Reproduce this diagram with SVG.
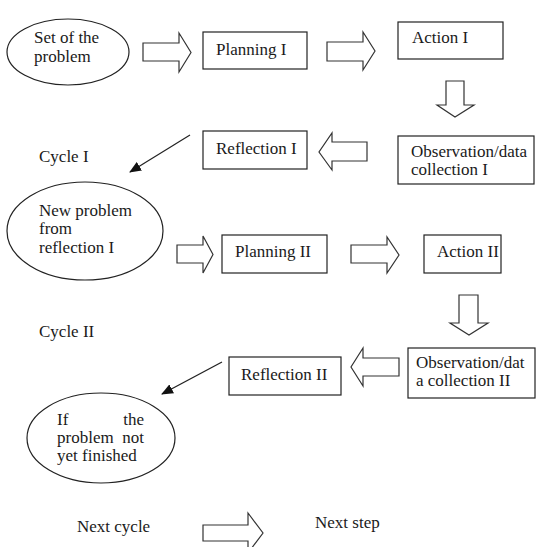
<svg xmlns="http://www.w3.org/2000/svg" width="537" height="547" viewBox="0 0 537 547">
<style>
.box{fill:#fff;stroke:#222;stroke-width:1.2}
.blk{fill:#fff;stroke:#333;stroke-width:1.2;stroke-linejoin:miter}
.ln{stroke:#222;stroke-width:1.2;fill:none}
text{font-family:"Liberation Serif","Times New Roman",serif;font-size:17px;fill:#1a1a1a}
.end{text-anchor:end}
</style>
<defs>
<marker id="ah" markerUnits="userSpaceOnUse" markerWidth="12" markerHeight="10" refX="11" refY="5" orient="auto">
<path d="M0,0 L12,5 L0,10 Z" fill="#111"/>
</marker>
</defs>
<rect width="537" height="547" fill="#fff"/>

<g id="n-set-problem">
<ellipse class="box" cx="68" cy="52" rx="61" ry="33"/>
<text x="34" y="43">Set of the</text>
<text x="34" y="62">problem</text>
</g>
<g id="n-planning1">
<rect class="box" x="203" y="32" width="104" height="37"/>
<text x="216" y="55">Planning I</text>
</g>
<g id="n-action1">
<rect class="box" x="398" y="22" width="105" height="37"/>
<text x="412" y="43">Action I</text>
</g>
<g id="n-observation1">
<rect class="box" x="398" y="136" width="136" height="48"/>
<text x="411" y="157">Observation/data</text>
<text x="411" y="175">collection I</text>
</g>
<g id="n-reflection1">
<rect class="box" x="203" y="131" width="104" height="38"/>
<text x="216" y="154">Reflection I</text>
</g>
<g id="n-cycle1">
<text x="39" y="162">Cycle I</text>
</g>
<g id="n-new-problem">
<ellipse class="box" cx="85" cy="231" rx="78" ry="49"/>
<text x="39" y="216">New problem</text>
<text x="39" y="234">from</text>
<text x="39" y="253">reflection I</text>
</g>
<g id="n-planning2">
<rect class="box" x="222" y="235" width="105" height="38"/>
<text x="235" y="257">Planning II</text>
</g>
<g id="n-action2">
<rect class="box" x="424" y="235" width="77" height="38"/>
<text x="437" y="257">Action II</text>
</g>
<g id="n-cycle2">
<text x="39" y="337">Cycle II</text>
</g>
<g id="n-observation2">
<rect class="box" x="408" y="348" width="127" height="50"/>
<text x="416" y="368">Observation/dat</text>
<text x="416" y="386">a collection II</text>
</g>
<g id="n-reflection2">
<rect class="box" x="229" y="357" width="112" height="38"/>
<text x="241" y="380">Reflection II</text>
</g>
<g id="n-not-finished">
<ellipse class="box" cx="101" cy="438" rx="74" ry="45"/>
<text x="57" y="425">If</text>
<text class="end" x="144" y="425">the</text>
<text x="57" y="443">problem</text>
<text class="end" x="144" y="443">not</text>
<text x="57" y="461">yet finished</text>
</g>
<g id="n-next-cycle">
<text x="77" y="532">Next cycle</text>
</g>
<g id="n-next-step">
<text x="315" y="528">Next step</text>
</g>

<g id="connectors">
<polygon class="blk" points="143,43 179,43 179,33 191,52.5 179,72 179,61 143,61"/>
<polygon class="blk" points="327,42 363,42 363,32 375,51 363,70 363,61 327,61"/>
<polygon class="blk" points="446,81 464,81 464,105 474,105 455,117 437,105 446,105"/>
<polygon class="blk" points="367,142 367,161 332,161 332,170 319,152 332,133 332,142"/>
<line class="ln" x1="190" y1="135" x2="130" y2="172" marker-end="url(#ah)"/>
<polygon class="blk" points="177,245 203,245 203,236 213,254.5 203,273 203,263 177,263"/>
<polygon class="blk" points="351,245 387,245 387,237 399,255 387,273 387,263 351,263"/>
<polygon class="blk" points="459,295 478,295 478,323 488,323 469,335 450,323 459,323"/>
<polygon class="blk" points="399,358 399,376 363,376 363,386 351,367 363,348 363,358"/>
<line class="ln" x1="222" y1="362" x2="162" y2="394" marker-end="url(#ah)"/>
<polygon class="blk" points="203,525 248,525 248,513 263,533 248,553 248,541 203,541"/>
</g>
</svg>
